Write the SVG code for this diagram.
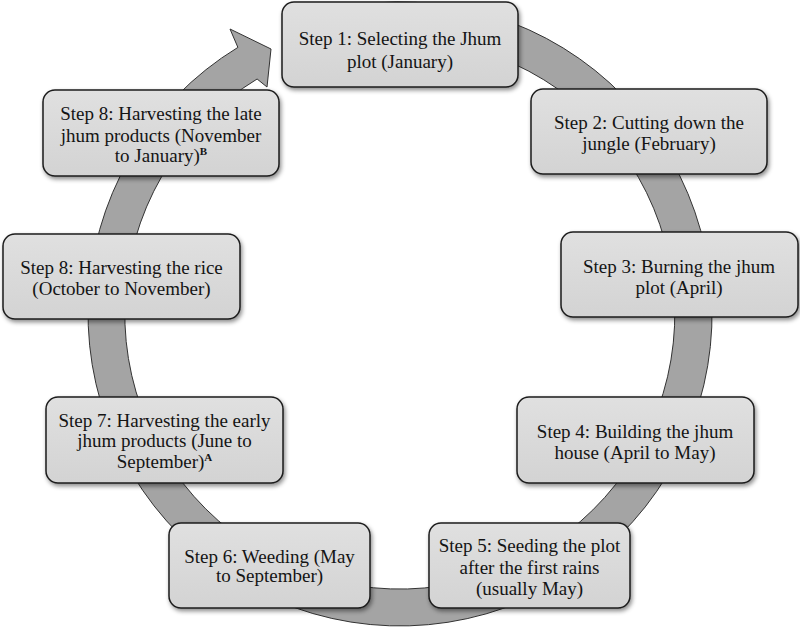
<svg xmlns="http://www.w3.org/2000/svg" width="800" height="631" viewBox="0 0 800 631">
<defs>
<linearGradient id="boxGrad" x1="0" y1="0" x2="0" y2="1">
<stop offset="0" stop-color="#e0e0e0"/>
<stop offset="1" stop-color="#d3d3d3"/>
</linearGradient>
<filter id="shadow" x="-10%" y="-10%" width="130%" height="140%">
<feDropShadow dx="1.5" dy="2.5" stdDeviation="2" flood-color="#000" flood-opacity="0.45"/>
</filter>
</defs>
<style>
.box{fill:url(#boxGrad);stroke:#1c1c1c;stroke-width:1.5;filter:url(#shadow)}
.lbl{font-family:"Liberation Serif","Times New Roman",serif;font-size:19px;fill:#141414;text-anchor:middle}
.sup{font-size:11px;font-weight:bold}
.ring{fill:#a4a4a4;stroke:#333;stroke-width:1}
</style>
<rect width="800" height="631" fill="#fff"/>
<g id="connectors">
<path class="ring" d="M319.25,12.6 A312,312 0 1 1 237.9,47.4 L230,29 L271,49 L267,87 L257.1,79 A275,275 0 1 0 328.8,48.4 Z"/>
</g>
<g id="step1">
<rect class="box" x="282" y="2" width="236" height="85" rx="12"/>
<text class="lbl" x="400" y="45">Step 1: Selecting the Jhum</text>
<text class="lbl" x="400" y="68">plot (January)</text>
</g>
<g id="step2">
<rect class="box" x="531" y="89" width="236" height="85" rx="12"/>
<text class="lbl" x="649" y="129">Step 2: Cutting down the</text>
<text class="lbl" x="649" y="150">jungle (February)</text>
</g>
<g id="step3">
<rect class="box" x="561" y="232" width="237" height="85" rx="12"/>
<text class="lbl" x="679" y="273">Step 3: Burning the jhum</text>
<text class="lbl" x="679" y="294">plot (April)</text>
</g>
<g id="step4">
<rect class="box" x="517" y="397" width="237" height="86" rx="12"/>
<text class="lbl" x="635" y="438">Step 4: Building the jhum</text>
<text class="lbl" x="635" y="459">house (April to May)</text>
</g>
<g id="step5">
<rect class="box" x="429" y="523" width="201" height="85" rx="12"/>
<text class="lbl" x="529.5" y="552">Step 5: Seeding the plot</text>
<text class="lbl" x="529.5" y="574">after the first rains</text>
<text class="lbl" x="529.5" y="595">(usually May)</text>
</g>
<g id="step6">
<rect class="box" x="169" y="523" width="201" height="85" rx="12"/>
<text class="lbl" x="269.5" y="563">Step 6: Weeding (May</text>
<text class="lbl" x="269.5" y="582">to September)</text>
</g>
<g id="step7">
<rect class="box" x="46" y="397" width="237" height="86" rx="12"/>
<text class="lbl" x="164.5" y="427">Step 7: Harvesting the early</text>
<text class="lbl" x="164.5" y="447">jhum products (June to</text>
<text class="lbl" x="164.5" y="467.5">September)<tspan class="sup" dy="-7">A</tspan></text>
</g>
<g id="step8-rice">
<rect class="box" x="3" y="234" width="237" height="85" rx="12"/>
<text class="lbl" x="121.5" y="274">Step 8: Harvesting the rice</text>
<text class="lbl" x="121.5" y="295">(October to November)</text>
</g>
<g id="step8-late">
<rect class="box" x="43" y="90" width="236" height="86" rx="12"/>
<text class="lbl" x="161" y="119.5">Step 8: Harvesting the late</text>
<text class="lbl" x="161" y="141.5">jhum products (November</text>
<text class="lbl" x="161" y="162">to January)<tspan class="sup" dy="-7">B</tspan></text>
</g>
</svg>
